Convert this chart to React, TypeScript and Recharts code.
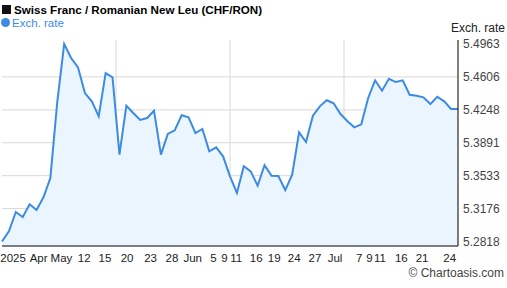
import { Area, AreaChart, CartesianGrid, XAxis, YAxis } from "recharts";

const rates = [
	5.2818, 5.2929, 5.3138, 5.3084, 5.3222, 5.316, 5.3298, 5.3508, 5.4336, 5.4963,
	5.4811, 5.471, 5.4431, 5.4341, 5.4178, 5.4648, 5.4601, 5.3761, 5.4293, 5.4214,
	5.4138, 5.4159, 5.4239, 5.3761, 5.3986, 5.4026, 5.4189, 5.4167, 5.3996, 5.404,
	5.3798, 5.3841, 5.3743, 5.3526, 5.3345, 5.3635, 5.358, 5.3424, 5.3646, 5.3533,
	5.3529, 5.3377, 5.3544, 5.4004, 5.3899, 5.4184, 5.4286, 5.4352, 5.4319, 5.4203,
	5.4124, 5.4058, 5.4091, 5.4377, 5.4569, 5.4456, 5.4586, 5.455, 5.4569, 5.4412,
	5.4402, 5.4384, 5.4311, 5.4391, 5.4341, 5.4257, 5.4257,
];

// label positions on the day index scale
const tickIndex = [1.6, 5.3, 8.6, 11.9, 14.9, 18.1, 21.5, 24.6, 27.6, 30.6, 32.2, 33.9, 36.8, 39.4, 42.3, 45.3, 48.2, 51.7, 53.2, 54.7, 57.8, 60.8, 64.8];
const tickText = ["2025", "Apr", "May", "12", "15", "20", "23", "28", "Jun", "5", "9", "11", "16", "19", "24", "27", "Jul", "7", "9", "11", "16", "21", "24"];

const yTicks = [5.2818, 5.3176, 5.3533, 5.3891, 5.4248, 5.4606, 5.4963];

const data = rates.map((rate, i) => ({ i, rate }));

const font = "'Liberation Sans', Arial, sans-serif";
const blue = "#3b8be4";

export default function App() {
	return (
		<div style={{ position: "absolute", left: 0, top: 0, width: 507, height: 288, background: "#fff", fontFamily: font }}>
			<div style={{ position: "absolute", left: 2, top: 3, fontSize: 11.6, fontWeight: "bold", color: "#000", whiteSpace: "nowrap" }}>
				<span style={{ display: "inline-block", width: 9, height: 9, background: "#111", marginRight: 3 }} />
				Swiss Franc / Romanian New Leu (CHF/RON)
			</div>
			<div style={{ position: "absolute", left: 1, top: 17, fontSize: 11.5, color: blue, whiteSpace: "nowrap" }}>
				<span style={{ display: "inline-block", width: 9, height: 9, borderRadius: "50%", background: blue, marginRight: 2 }} />
				Exch. rate
			</div>
			<div style={{ position: "absolute", right: 2, top: 21, fontSize: 12, color: "#222" }}>Exch. rate</div>
			<div style={{ position: "absolute", right: 3, top: 266, fontSize: 12, color: "#444" }}>© Chartoasis.com</div>
			<AreaChart width={507} height={288} data={data} margin={{ top: 40, right: 0, bottom: 0, left: 2 }}>
				<CartesianGrid
					stroke="#d9d9d9"
					horizontalValues={yTicks.slice(1, -1)}
					verticalCoordinatesGenerator={({ offset }) =>
						[1, 2, 3].map((k) => (offset.left ?? 0) + ((offset.width ?? 0) * k) / 4)
					}
				/>
				<XAxis
					type="number"
					dataKey="i"
					domain={[0, rates.length - 1]}
					ticks={tickIndex}
					interval={0}
					tickFormatter={(v) => tickText[tickIndex.indexOf(v)] ?? ""}
					height={42}
					tickLine={false}
					tickSize={0}
					tickMargin={8}
					axisLine={{ stroke: "#000" }}
					tick={{ fontSize: 11.5, fill: "#222", fontFamily: font }}
				/>
				<YAxis
					orientation="right"
					domain={[(min: number) => min - 0.0049, (max: number) => max + 0.0044]}
					ticks={yTicks}
					interval={0}
					width={49}
					tickLine={false}
					tickSize={0}
					tickMargin={5}
					tickFormatter={(v) => Number(v).toFixed(4)}
					axisLine={{ stroke: "#000" }}
					tick={{ fontSize: 12, fill: "#444", fontFamily: font }}
				/>
				<YAxis yAxisId="l" orientation="left" width={0} tick={false} tickLine={false} axisLine={{ stroke: "#000" }} />
				<Area
					type="linear"
					dataKey="rate"
					stroke={blue}
					strokeWidth={2}
					fill="#ebf5fe"
					fillOpacity={1}
					dot={false}
					activeDot={false}
					isAnimationActive={false}
				/>
			</AreaChart>
		</div>
	);
}
